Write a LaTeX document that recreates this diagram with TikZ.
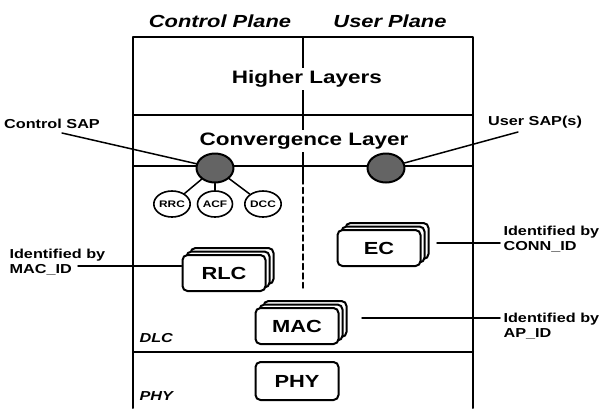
\documentclass[tikz,border=0pt]{standalone}
\usepackage{fontspec}
\setmainfont{Liberation Sans}[FakeStretch=1.25]
\usetikzlibrary{arrows.meta,positioning,shadows,shapes.geometric}
\definecolor{sapgrey}{RGB}{100,100,100}

\begin{document}
\begin{tikzpicture}[x=1pt,y=-1pt,line cap=round,line join=round,
  frame/.style={line width=2pt},
  link/.style={line width=1.5pt},
  layer/.style={font=\bfseries\fontsize{18}{20}\selectfont,
   fill=white,inner sep=3pt},
  planetitle/.style={font=\bfseries\itshape\fontsize{17.5}{20}\selectfont},
  entity/.style={draw,line width=2pt,rounded corners=5pt,fill=white,
   minimum width=83pt,minimum height=36pt,
   font=\bfseries\fontsize{17.5}{20}\selectfont},
  stacked/.style={entity,
   copy shadow={shadow xshift=8pt,shadow yshift=7pt},
   copy shadow={shadow xshift=4pt,shadow yshift=3.5pt}},
  sap/.style={ellipse,draw,line width=2pt,fill=sapgrey,
   minimum width=37pt,minimum height=29pt},
  func/.style={ellipse,draw,line width=1.6pt,inner sep=0pt,
   minimum width=35pt,minimum height=26pt,
   font=\bfseries\fontsize{9.5}{10}\selectfont},
  note/.style={font=\bfseries\fontsize{13}{15}\selectfont,align=left},
  tag/.style={font=\bfseries\itshape\fontsize{13}{15}\selectfont}]
 \useasboundingbox (0,0) rectangle (603,408);

 % protocol stack frame
 \draw[frame] (133,408) -- (133,37) -- (473,37) -- (473,408);
 \draw[frame] (133,115) -- (473,115);
 \draw[frame] (133,166) -- (473,166);
 \draw[frame] (133,352) -- (473,352);
 \draw[frame] (303,37) -- (303,178);
 \draw[line width=1.4pt,dash pattern=on 6pt off 3.5pt] (303,178) -- (303,288);

 \node[planetitle] (cplane) at (220,21) {Control Plane};
 \node[planetitle] (uplane) at (390,21) {User Plane};
 \node[layer] (higher) at (307,79) {Higher Layers};
 \node[layer] (conv) at (304,141) {Convergence Layer};

 % service access points
 \node[sap] (csap) at (215,168) {};
 \node[sap] (usap) at (386,168) {};
 \node[note] (csaplbl) at (52,124) {Control SAP};
 \node[note] (usaplbl) at (535,122) {User SAP(s)};
 \coordinate (csapfoot) at (62,133);
 \coordinate (usapfoot) at (518,132);
 \draw[link] (csapfoot) -- (csap);
 \draw[link] (usapfoot) -- (usap);

 \node[func] (rrc) at (172,204) {RRC};
 \node[func] (acf) at (215,204) {ACF};
 \node[func] (dcc) at (263,204) {DCC};
 \foreach \f in {rrc,acf,dcc}
  \draw[link] (csap) -- (\f);

 % DLC entities
 \node[stacked] (rlc) at (224,273) {RLC};
 \node[stacked] (ec) at (379,248) {EC};
 \node[stacked] (mac) at (297,326) {MAC};
 \node[entity,minimum height=38pt] (phy) at (297,381) {PHY};

 \node[note,anchor=west] (macid) at (6,262) {Identified by\\MAC\_ID};
 \node[note,anchor=west] (connid) at (500,239) {Identified by\\CONN\_ID};
 \node[note,anchor=west] (apid) at (500,326) {Identified by\\AP\_ID};
 \coordinate (macidfoot) at (78,266);
 \coordinate (ecfoot) at (437,243);
 \coordinate (macfoot) at (362,318);
 \draw[link] (macidfoot) -- (macidfoot -| rlc.west);
 \draw[link] (ecfoot) -- (ecfoot -| connid.west);
 \draw[link] (macfoot) -- (macfoot -| apid.west);

 \node[tag,anchor=west] (dlc) at (136,338) {DLC};
 \node[tag,anchor=west] (phylbl) at (136,396) {PHY};
\end{tikzpicture}
\end{document}
